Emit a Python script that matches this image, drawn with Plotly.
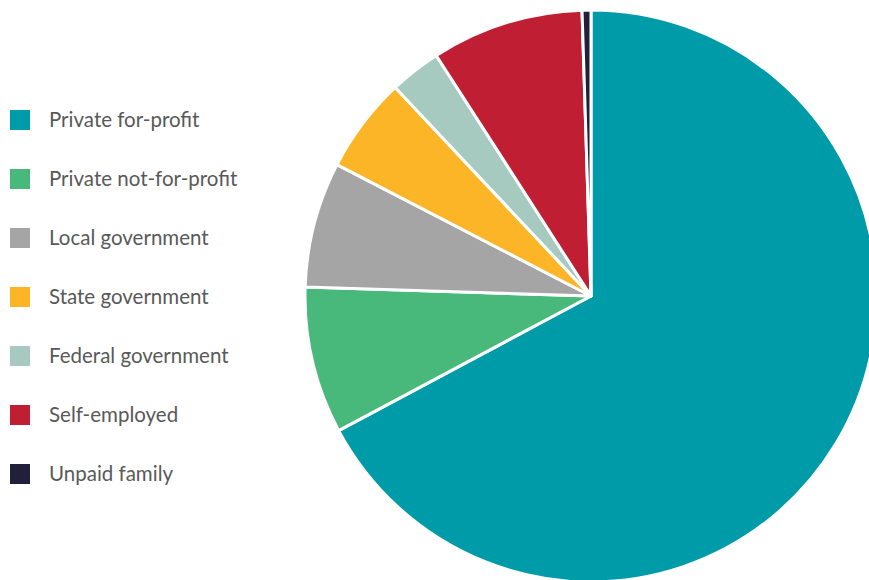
import plotly.graph_objects as go

# Employment share by class of worker (percent)
labels = [
    "Private for-profit",
    "Private not-for-profit",
    "Local government",
    "State government",
    "Federal government",
    "Self-employed",
    "Unpaid family",
]
shares = [67.2, 8.3, 7.1, 5.4, 2.9, 8.6, 0.5]
colors = ["#009BA8", "#48B97A", "#A5A5A5", "#FDB528", "#A6C9C0", "#C01F33", "#221F3A"]

W, H = 880, 600  # canvas slightly wider than the view so the pie bleeds off the edge

fig = go.Figure(
    go.Pie(
        labels=labels,
        values=shares,
        sort=False,
        direction="clockwise",
        rotation=0,
        marker=dict(colors=colors, line=dict(color="white", width=3)),
        textinfo="none",
        hoverinfo="label+percent",
        showlegend=False,
        domain=dict(x=[305 / W, 877 / W], y=[18 / H, 590 / H]),
    )
)

# Hand-built legend: one square swatch and label per category
row0, step = 120, 59
shapes, annotations = [], []
for i, (lab, col) in enumerate(zip(labels, colors)):
    yc = row0 + i * step
    shapes.append(dict(
        type="rect", xref="paper", yref="paper",
        x0=10 / W, x1=30 / W,
        y0=(H - yc - 10) / H, y1=(H - yc + 10) / H,
        fillcolor=col, line=dict(width=0),
    ))
    annotations.append(dict(
        text=lab, xref="paper", yref="paper",
        x=47 / W, y=(H - yc + 1) / H, xanchor="left", yanchor="middle",
        showarrow=False, font=dict(family="Lato", size=20.5, color="#595959"),
    ))

fig.update_layout(
    width=W, height=H,
    margin=dict(l=0, r=0, t=0, b=0),
    paper_bgcolor="white",
    plot_bgcolor="white",
    shapes=shapes,
    annotations=annotations,
)

fig.write_html(
    "out.html",
    post_script="document.body.style.overflow='hidden';document.documentElement.style.overflow='hidden';",
)
